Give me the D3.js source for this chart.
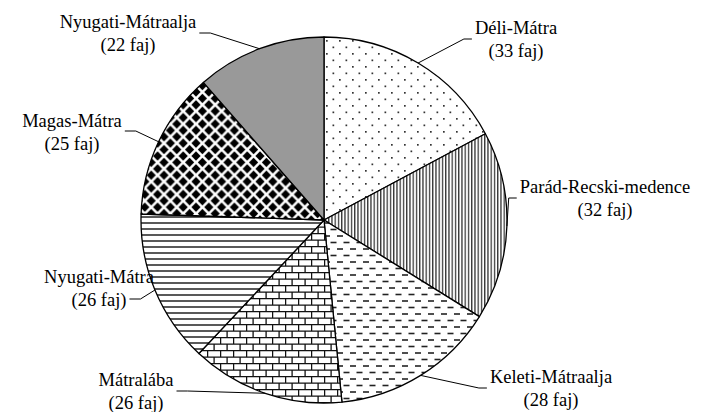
<!DOCTYPE html>
<html>
<head>
<meta charset="utf-8">
<script src="https://cdn.jsdelivr.net/npm/d3@7/dist/d3.min.js"></script>
<style>
body { margin: 0; background: #fff; }
svg { display: block; }
</style>
</head>
<body>
<div id="chart"></div>
<script>
// data (clockwise from 12 o'clock)
var regions = ["Déli-Mátra", "Parád-Recski-medence", "Keleti-Mátraalja", "Mátralába",
	"Nyugati-Mátra", "Magas-Mátra", "Nyugati-Mátraalja"];
var counts = [33, 32, 28, 26, 26, 25, 22];
var fills = ["dots", "vlines", "dashes", "bricks", "hlines", "diamonds", "gray"];

// label layout: centre x, first baseline, leader height, which line the leader meets (0 = whole block)
var labelAt = [[516, 34, 39, 0], [605, 193, 198, 0], [551, 383, 388, 0], [136, 386, 391, 0],
	[99, 283, 299, 2], [72, 127, 131, 0], [128, 28, 33, 0]];

var width = 723, height = 412;
var cx = 324, cy = 220, radius = 183;
var font = "'Liberation Serif', 'Times New Roman', Times, 'DejaVu Serif', serif";

var svg = d3.select("#chart").append("svg")
	.attr("width", width)
	.attr("height", height);

svg.append("rect").attr("width", width).attr("height", height).attr("fill", "#fff");

// pattern fills
var defs = svg.append("defs");
function pattern(id, w, h) {
	var p = defs.append("pattern")
		.attr("id", id)
		.attr("patternUnits", "userSpaceOnUse")
		.attr("width", w).attr("height", h);
	p.append("rect").attr("width", w).attr("height", h).attr("fill", "#fff");
	return p;
}

var p = pattern("dots", 13, 13);
p.append("rect").attr("x", 2).attr("y", 2).attr("width", 1.7).attr("height", 1.7).attr("fill", "#333");
p.append("rect").attr("x", 8.5).attr("y", 8.5).attr("width", 1.7).attr("height", 1.7).attr("fill", "#333");

p = pattern("vlines", 3.25, 10);
p.append("line").attr("x1", 1.5).attr("x2", 1.5).attr("y1", 0).attr("y2", 10)
	.attr("stroke", "#111").attr("stroke-width", 1.1);

p = pattern("hlines", 10, 6);
p.append("line").attr("x1", 0).attr("x2", 10).attr("y1", 3).attr("y2", 3)
	.attr("stroke", "#111").attr("stroke-width", 1.4);

p = pattern("dashes", 13, 13);
p.append("line").attr("x1", 0).attr("x2", 6).attr("y1", 3).attr("y2", 3)
	.attr("stroke", "#222").attr("stroke-width", 1.6);
p.append("line").attr("x1", 6.5).attr("x2", 12.5).attr("y1", 9.5).attr("y2", 9.5)
	.attr("stroke", "#222").attr("stroke-width", 1.6);

p = pattern("bricks", 13, 13);
p.append("path")
	.attr("d", "M0,0.6H13M0,7.1H13M0.6,0V6.5M7.1,6.5V13")
	.attr("stroke", "#111").attr("stroke-width", 1.3).attr("fill", "none");

// black diamonds, staggered
function diamond(x0, y0, h) {
	return "M" + x0 + "," + (y0 - h) + "L" + (x0 + h) + "," + y0 +
		"L" + x0 + "," + (y0 + h) + "L" + (x0 - h) + "," + y0 + "Z";
}
p = pattern("diamonds", 12.8, 12.8);
[[0, 0], [12.8, 0], [0, 12.8], [12.8, 12.8], [6.4, 6.4]].forEach(function (c) {
	p.append("path").attr("d", diamond(c[0], c[1], 4.6)).attr("fill", "#000");
});

var fillOf = {
	dots: "url(#dots)", vlines: "url(#vlines)", hlines: "url(#hlines)", dashes: "url(#dashes)",
	bricks: "url(#bricks)", diamonds: "url(#diamonds)", gray: "#999999"
};

var data = regions.map(function (r, i) {
	return { name: r, value: counts[i], fill: fills[i], pos: labelAt[i] };
});

var pie = d3.pie()
	.sort(null)
	.value(function (d) { return d.value; });

var arc = d3.arc()
	.innerRadius(0)
	.outerRadius(radius);

var g = svg.append("g").attr("transform", "translate(" + cx + "," + cy + ")");
var arcs = pie(data);

g.selectAll("path.slice")
	.data(arcs)
	.enter().append("path")
	.attr("class", "slice")
	.attr("d", arc)
	.attr("fill", function (d) { return fillOf[d.data.fill]; })
	.attr("stroke", "#000")
	.attr("stroke-width", 1.3)
	.attr("stroke-linejoin", "round");

// labels + leader lines
arcs.forEach(function (d) {
	var mid = (d.startAngle + d.endAngle) / 2;
	var ex = cx + radius * Math.sin(mid), ey = cy - radius * Math.cos(mid);
	var lx = d.data.pos[0], by = d.data.pos[1], ly = d.data.pos[2];

	var t = svg.append("text")
		.attr("text-anchor", "middle")
		.attr("font-family", font)
		.attr("font-size", "18.5px")
		.attr("fill", "#000");
	var l1 = t.append("tspan").attr("x", lx).attr("y", by).text(d.data.name);
	var l2 = t.append("tspan").attr("x", lx).attr("y", by + 22.5).text("(" + d.data.value + " faj)");

	var bb = d.data.pos[3] === 2 ? l2.node().getBBox() : t.node().getBBox();
	var leftSide = ex > lx; // label sits left of the slice edge
	var endX = leftSide ? bb.x + bb.width + 3 : bb.x - 3;
	var elbowX = leftSide ? endX + 11 : endX - 8;

	svg.append("path")
		.attr("d", d3.line()([[ex, ey], [elbowX, ly], [endX, ly]]))
		.attr("fill", "none")
		.attr("stroke", "#000")
		.attr("stroke-width", 1);
});
</script>
</body>
</html>
